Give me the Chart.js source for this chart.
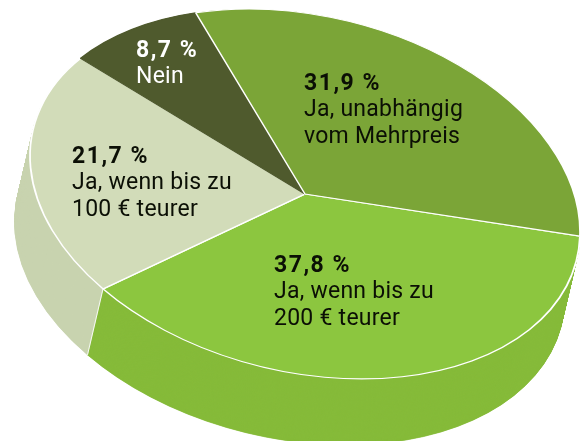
<!DOCTYPE html>
<html>
<head>
<meta charset="utf-8">
<style>html,body{margin:0;padding:0;background:#fff;overflow:hidden}canvas{display:block}</style>
<script src="https://cdn.jsdelivr.net/npm/chart.js@4"></script>
</head>
<body>
<canvas id="c" width="580" height="441"></canvas>
<script>
const categories = ["Ja, unabhängig vom Mehrpreis", "Ja, wenn bis zu 200 € teurer", "Ja, wenn bis zu 100 € teurer", "Nein"];
const shares = [31.9, 37.8, 21.7, 8.7];
const percentLabels = ["31,9 %", "37,8 %", "21,7 %", "8,7 %"];
const labelLines = [["Ja, unabhängig", "vom Mehrpreis"], ["Ja, wenn bis zu", "200 € teurer"], ["Ja, wenn bis zu", "100 € teurer"], ["Nein"]];
const topColors = ["#7ba537", "#8cc63f", "#d2dcb9", "#4f5a2d"];
const edgeColors = ["#ffffff", "#ffffff", "#ffffff", "#4f5a2d"];
const wallColors = ["#7ba537", "#86bb3a", "#c8d3af", "#4f5a2d"];
const textColors = ["#0b0f05", "#0b0f05", "#0b0f05", "#ffffff"];

// Projection of the flat pie onto the tilted disc
const tilt = {cx: 305, cy: 194, xx: 275, xy: 38, yy: 181, depthX: -15.5, depthY: 66};
const labelAnchors = [[304, 90], [274, 272], [72, 163], [136, 57]];
const lineStep = 26.4;
const startRotation = -23.4;

function project(ctx, arc) {
  const R = arc.outerRadius;
  ctx.translate(tilt.cx, tilt.cy);
  ctx.transform(tilt.xx / R, tilt.xy / R, 0, tilt.yy / R, 0, 0);
  ctx.translate(-arc.x, -arc.y);
}

const tiltedDisc = {
  id: "tiltedDisc",
  beforeDatasetDraw(chart) {
    const ctx = chart.ctx, arcs = chart.getDatasetMeta(0).data;
    const steps = 140;
    for (let i = steps; i >= 1; i--) {
      ctx.save();
      ctx.translate(tilt.depthX * i / steps, tilt.depthY * i / steps);
      project(ctx, arcs[0]);
      arcs.forEach((arc, k) => {
        const keep = arc.options, o = Object.create(keep);
        o.backgroundColor = wallColors[k];
        o.borderColor = wallColors[k];
        o.borderWidth = 0.6;
        arc.options = o;
        arc.draw(ctx);
        arc.options = keep;
      });
      ctx.restore();
    }
    // seam between the two visible wall colours, taken from the arc's own end angle
    const a = arcs[1];
    const ux = Math.cos(a.endAngle), uy = Math.sin(a.endAngle);
    const px = tilt.cx + tilt.xx * ux, py = tilt.cy + tilt.xy * ux + tilt.yy * uy;
    ctx.save();
    ctx.strokeStyle = "#ffffff";
    ctx.lineWidth = 0.9;
    ctx.beginPath();
    ctx.moveTo(px, py);
    ctx.lineTo(px + tilt.depthX, py + tilt.depthY);
    ctx.stroke();
    ctx.restore();
    ctx.save();
    project(ctx, arcs[0]);
  },
  afterDatasetDraw(chart) {
    // first slice again, so its white edge lies over the neighbouring dark slice
    chart.getDatasetMeta(0).data[0].draw(chart.ctx);
    chart.ctx.restore();
  },
  afterDraw(chart) {
    const ctx = chart.ctx;
    ctx.save();
    ctx.textBaseline = "alphabetic";
    ctx.textAlign = "left";
    percentLabels.forEach((p, k) => {
      const [x, y] = labelAnchors[k];
      ctx.fillStyle = textColors[k];
      ctx.font = "bold 23px Roboto";
      ctx.letterSpacing = "1.5px";
      ctx.fillText(p, x, y);
      ctx.font = "23px Roboto";
      ctx.letterSpacing = "0.25px";
      labelLines[k].forEach((line, j) => ctx.fillText(line, x, y + lineStep * (j + 1)));
    });
    ctx.restore();
  }
};

new Chart(document.getElementById("c"), {
  type: "pie",
  data: {
    labels: categories,
    datasets: [{
      data: shares,
      backgroundColor: topColors,
      borderColor: edgeColors,
      borderWidth: 1.4,
      clip: false
    }]
  },
  options: {
    responsive: false,
    animation: false,
    rotation: startRotation,
    layout: {padding: 0},
    plugins: {legend: {display: false}, tooltip: {enabled: false}}
  },
  plugins: [tiltedDisc]
});
</script>
</body>
</html>
